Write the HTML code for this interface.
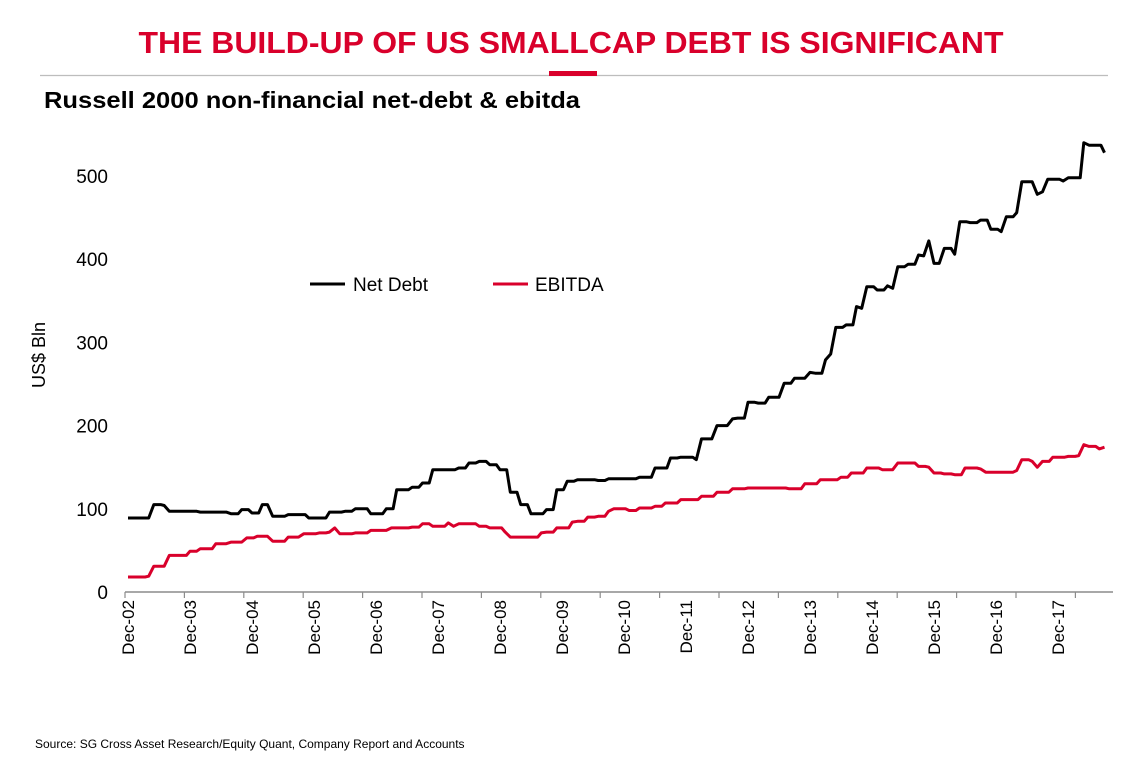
<!DOCTYPE html>
<html><head><meta charset="utf-8"><style>
html,body{margin:0;padding:0;background:#fff;}
svg{display:block;font-family:"Liberation Sans",Arial,sans-serif;}
</style></head><body>
<svg id="chart" width="1132" height="767" viewBox="0 0 1132 767">
<text x="571" y="53" text-anchor="middle" font-size="31" font-weight="bold" fill="#d9002b" textLength="865" lengthAdjust="spacingAndGlyphs">THE BUILD-UP OF US SMALLCAP DEBT IS SIGNIFICANT</text>
<line x1="40" y1="75.5" x2="1108" y2="75.5" stroke="#bdbdbd" stroke-width="1.3"/>
<rect x="549" y="71" width="48" height="5" fill="#d9002b"/>
<text x="44" y="108" font-size="23" font-weight="bold" fill="#000" textLength="536" lengthAdjust="spacingAndGlyphs">Russell 2000 non-financial net-debt &amp; ebitda</text>
<text transform="translate(45,355) rotate(-90)" text-anchor="middle" font-size="18" fill="#000">US$ Bln</text>
<g id="yaxis"></g>
<g id="xaxis"></g>
<g id="series"></g>
<g>
<g><line x1="310" y1="284" x2="345" y2="284" stroke="#000" stroke-width="3"/><text x="353" y="291" font-size="19" fill="#000">Net Debt</text></g>
<g><line x1="493" y1="284" x2="528" y2="284" stroke="#d9002b" stroke-width="3"/><text x="535" y="291" font-size="19" fill="#000">EBITDA</text></g>
</g>
<text x="35" y="748" font-size="12" fill="#000">Source: SG Cross Asset Research/Equity Quant, Company Report and Accounts</text>
</svg>
<script>
const yTicks=[0,100,200,300,400,500];
const xLabels=["Dec-02","Dec-03","Dec-04","Dec-05","Dec-06","Dec-07","Dec-08","Dec-09","Dec-10","Dec-11","Dec-12","Dec-13","Dec-14","Dec-15","Dec-16","Dec-17"];
const debtMonths=[0,4,5,7,8,11,14,19,20,22,24,26,27,28,31,35,39,42,44,47,50,52,55,57,59,64,66,68,70,72,74,76,78,81,83,85,87,91,93,99,102,105,107,110,111,113,114,116,117,118,120,122,124,126,127,129,131,132,133,135,136,137,139,141,142,143,145,147,148,149,151,153,154,155,156,157,158,160,161,163,165,167,169,170,172,173,175,176,177,178,181,182,183,185,186,189];
const debtValues=[89,89,105,104,97,97,96,96,94,99,95,105,105,91,93,89,96,97,100,94,100,123,126,131,147,149,155,157,153,147,120,105,94,99,123,133,135,134,136,138,149,161,162,159,184,184,200,200,208,209,228,227,234,234,251,257,257,264,263,279,286,318,321,343,341,367,363,368,365,391,394,405,404,422,395,395,413,406,445,444,447,436,433,451,456,493,493,478,481,496,494,498,498,540,537,528];
const ebitdaMonths=[0,4,5,7,8,10,12,14,17,19,20,22,23,25,27,28,31,33,34,37,39,40,41,44,47,50,51,55,57,59,62,63,64,68,70,73,74,78,80,81,83,86,87,89,91,93,94,97,99,102,104,107,111,114,117,120,125,128,131,134,138,140,143,146,148,149,151,153,155,156,158,160,162,165,166,172,173,175,176,177,179,182,184,185,186,188,189];
const ebitdaValues=[18,19,31,31,44,44,49,52,58,58,60,60,65,67,67,61,66,66,70,71,72,77,70,71,74,74,77,78,82,79,83,79,82,79,77,72,66,66,71,72,77,84,85,90,91,97,100,98,101,103,107,111,115,120,124,125,125,124,130,135,138,143,149,147,147,155,155,151,150,143,142,141,149,148,144,146,159,157,150,157,162,163,164,177,175,172,174];

const NS="http://www.w3.org/2000/svg";
const X0=128, PER_MONTH=62/12, Y0=592, PER_UNIT=0.832;
function xScale(m){return X0+m*PER_MONTH;}
function yScale(v){return Y0-v*PER_UNIT;}
function mk(tag,attrs,parent){const e=document.createElementNS(NS,tag);for(const k in attrs)e.setAttribute(k,attrs[k]);parent.appendChild(e);return e;}

const ya=document.getElementById('yaxis');
yTicks.forEach(t=>{
  const tx=mk('text',{x:108,y:yScale(t)+7,'text-anchor':'end','font-size':19,fill:'#000'},ya);
  tx.textContent=t;
  
  
});
const xa=document.getElementById('xaxis');
const ax=mk('line',{x1:125,y1:Y0,x2:1113,y2:Y0,stroke:'#8c8c8c','stroke-width':1.5},xa);


for(let i=0;i<=16;i++){
  const tk=mk('line',{x1:125+i*59.4,y1:Y0,x2:125+i*59.4,y2:Y0+6,stroke:'#8c8c8c','stroke-width':1.2},xa);
  
  
}
xLabels.forEach((l,i)=>{
  const x=xScale(i*12)+6;
  const tx=mk('text',{transform:`translate(${x},600) rotate(-90)`,'text-anchor':'end','font-size':17,fill:'#000'},xa);
  tx.textContent=l;
  
  
});
const sg=document.getElementById('series');
function line(ms,vs,color,name){
  let d='M'+xScale(ms[0]).toFixed(1)+','+yScale(vs[0]).toFixed(1);
  for(let i=1;i<ms.length;i++){
    if(ms[i]-ms[i-1]>1){
      d+='L'+xScale(ms[i]-0.7).toFixed(1)+','+yScale(vs[i-1]).toFixed(1);
    }
    d+='L'+xScale(ms[i]).toFixed(1)+','+yScale(vs[i]).toFixed(1);
  }
  const p=mk('path',{d:d,fill:'none',stroke:color,'stroke-width':3,'stroke-linejoin':'round'},sg);
  
  
}
line(ebitdaMonths,ebitdaValues,'#d9002b','ebitda-line');
line(debtMonths,debtValues,'#000','net-debt-line');
</script>
</body></html>
